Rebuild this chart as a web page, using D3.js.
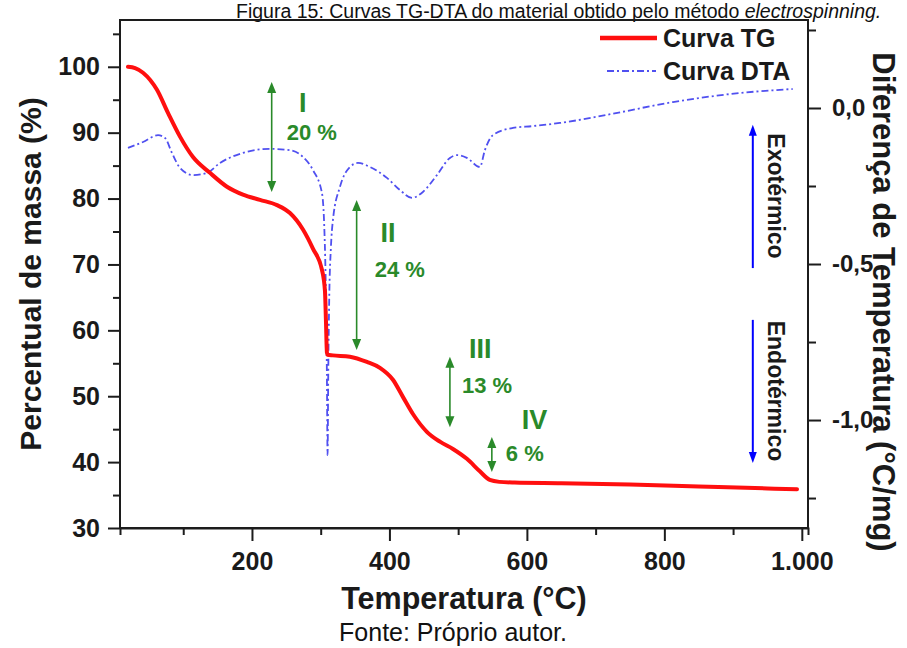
<!DOCTYPE html>
<html>
<head>
<meta charset="utf-8">
<script src="https://cdn.jsdelivr.net/npm/d3@7"></script>
<style>
  body { margin: 0; background: #fff; }
  svg { display: block; }
  text { font-family: "Liberation Sans", Arial, Helvetica, sans-serif; }
</style>
</head>
<body>
<svg id="chart" width="907" height="648"></svg>
<script>
// TG curve: temperature (°C) and remaining mass (%)
const tgTemp = [19.6, 30, 41.5, 61.8, 77.8, 95.3, 114.2, 138.9, 163.6, 186.9, 211.6, 236.4, 255.3, 274.2, 288.7,
  301.8, 306.2, 307.6, 309.1, 310, 317.8, 342.5, 367.3, 386.2, 405.1, 419.6, 434.2, 454.5, 473.5, 492.4,
  512.7, 531.6, 546, 560, 582, 650, 750, 850, 950, 993];
const tgMass = [100, 99.8, 99.1, 96.5, 93.0, 89.4, 86.3, 83.9, 81.8, 80.6, 79.8, 79.0, 77.8, 75.3, 72.4,
  69.2, 66.0, 61.6, 56.6, 56.3, 56.2, 56.0, 55.2, 54.3, 52.5, 49.9, 47.3, 44.6, 43.1, 42.0,
  40.5, 38.6, 37.3, 37.0, 36.9, 36.8, 36.6, 36.3, 36.0, 35.9];

// DTA curve: temperature (°C) and temperature difference (°C/mg)
const dtaTemp = [19.6, 41.5, 63.3, 73.5, 83.6, 95.3, 114.2, 134.5, 153.5, 186.9, 226.2, 255.3, 274.2, 288.7,
  301.8, 305.5, 307.6, 309.0, 310.0, 311.0, 312.5, 314.8, 317.8, 328, 342.5, 354.2, 371.6, 396.4, 415.3,
  432.7, 448.7, 469.1, 488, 498.2, 512.7, 531.6, 538.9, 550.5, 579.6, 608.7, 648, 716.4, 812.4, 909.8, 986.9];
const dtaDiff = [-0.128, -0.109, -0.087, -0.096, -0.144, -0.192, -0.215, -0.208, -0.176, -0.144, -0.131, -0.135, -0.157, -0.199,
  -0.272, -0.40, -0.60, -0.85, -1.112, -0.85, -0.60, -0.45, -0.359, -0.253, -0.189, -0.176, -0.189, -0.224, -0.263,
  -0.288, -0.269, -0.215, -0.160, -0.151, -0.160, -0.189, -0.135, -0.087, -0.064, -0.058, -0.048, -0.022, 0.019, 0.048, 0.061];

// Axis ticks
const tempTicks = [200, 400, 600, 800, 1000];
const tempTickLabels = ["200", "400", "600", "800", "1.000"];
const tempMinor = [100, 300, 500, 700, 900];
const massTicks = [30, 40, 50, 60, 70, 80, 90, 100];
const massMinor = [35, 45, 55, 65, 75, 85, 95, 105];
const diffTicks = [0, -0.5, -1.0];
const diffTickLabels = ["0,0", "-0,5", "-1,0"];
const diffMinor = [0.25, -0.25, -0.75, -1.25];

// Mass-loss stages: arrow temperature, arrow span (%), label positions
const stageNames = ["I", "II", "III", "IV"];
const stageLoss = ["20 %", "24 %", "13 %", "6 %"];
const stageArrowT = [228.7, 352.3, 488, 549];
const stageArrowTop = [97.7, 79.8, 56.0, 43.8];
const stageArrowBottom = [81.0, 57.0, 45.3, 38.5];
const stageNameT = [274, 398, 532, 611];
const stageNameM = [94.5, 74.8, 57.3, 46.4];
const stageLossT = [287, 415, 542, 597];
const stageLossM = [90.1, 69.2, 51.7, 41.4];

const svg = d3.select("#chart");
const plotLeft = 120, plotRight = 808, plotTop = 20, plotBottom = 528;
const axisColor = "#1c1c1c";
const red = "#ff0f0f", blue = "#5050f0", green = "#2a8a2a";

const x = d3.scaleLinear().domain([8, 1009]).range([plotLeft, plotRight]);
const yMass = d3.scaleLinear().domain([30, 107.1]).range([plotBottom, plotTop]);
const yDiff = d3.scaleLinear().domain([-1.346, 0.282]).range([plotBottom, plotTop]);

// Caption above the plot
const cap = svg.append("text").attr("x", 236).attr("y", 18)
  .attr("font-size", 19.5).attr("fill", "#111");
cap.append("tspan").text("Figura 15: Curvas TG-DTA do material obtido pelo método ");
cap.append("tspan").attr("font-style", "italic").text("electrospinning.");

// Frame
svg.append("rect").attr("x", plotLeft).attr("y", plotTop)
  .attr("width", plotRight - plotLeft).attr("height", plotBottom - plotTop)
  .attr("fill", "none").attr("stroke", axisColor).attr("stroke-width", 2);

function styleAxis(g, size) {
  g.select(".domain").attr("stroke", axisColor).attr("stroke-width", 2);
  g.selectAll(".tick line").attr("stroke", axisColor).attr("stroke-width", 2);
  g.selectAll("text").attr("font-family", "'Liberation Sans', Arial, sans-serif")
    .attr("font-weight", "bold").attr("font-size", size).attr("fill", "#1a1a1a");
}

// Bottom axis
const gx = svg.append("g").attr("transform", `translate(0,${plotBottom})`)
  .call(d3.axisBottom(x).tickValues(tempMinor).tickSize(7).tickFormat(""));
styleAxis(gx, 25);
const gx2 = svg.append("g").attr("transform", `translate(0,${plotBottom})`)
  .call(d3.axisBottom(x).tickValues(tempTicks).tickSize(13).tickPadding(11)
    .tickFormat((d, i) => tempTickLabels[i]));
styleAxis(gx2, 25);
gx2.selectAll(".domain").remove();

// Left axis (mass %)
const gl = svg.append("g").attr("transform", `translate(${plotLeft},0)`)
  .call(d3.axisLeft(yMass).tickValues(massMinor).tickSize(7).tickFormat(""));
styleAxis(gl, 25);
gl.select(".domain").remove();
const gl2 = svg.append("g").attr("transform", `translate(${plotLeft},0)`)
  .call(d3.axisLeft(yMass).tickValues(massTicks).tickSize(12).tickPadding(8).tickFormat(d3.format("d")));
styleAxis(gl2, 25);
gl2.select(".domain").remove();

// Right axis (DTA)
const gr = svg.append("g").attr("transform", `translate(${plotRight},0)`)
  .call(d3.axisRight(yDiff).tickValues(diffMinor).tickSize(8).tickFormat(""));
styleAxis(gr, 24);
gr.select(".domain").remove();
const gr2 = svg.append("g").attr("transform", `translate(${plotRight},0)`)
  .call(d3.axisRight(yDiff).tickValues(diffTicks).tickSize(13).tickPadding(11)
    .tickFormat((d, i) => diffTickLabels[i]));
styleAxis(gr2, 24);
gr2.select(".domain").remove();

// Axis titles
svg.append("text").attr("x", (plotLeft + plotRight) / 2).attr("y", 609)
  .attr("text-anchor", "middle").attr("font-weight", "bold").attr("font-size", 30.5)
  .attr("fill", "#1a1a1a").text("Temperatura (°C)");
svg.append("text").attr("transform", `translate(41,${(plotTop + plotBottom) / 2}) rotate(-90)`)
  .attr("text-anchor", "middle").attr("font-weight", "bold").attr("font-size", 30)
  .attr("fill", "#1a1a1a").text("Percentual de massa (%)");
svg.append("text").attr("transform", "translate(873,302) rotate(90)")
  .attr("text-anchor", "middle").attr("font-weight", "bold").attr("font-size", 31)
  .attr("fill", "#1a1a1a").text("Diferença de Temperatura (°C/mg)");

// Source note
svg.append("text").attr("x", 453).attr("y", 641).attr("text-anchor", "middle")
  .attr("font-size", 25).attr("fill", "#111").text("Fonte: Próprio autor.");

// Curves
const tgData = tgTemp.map((t, i) => [t, tgMass[i]]);
const dtaData = dtaTemp.map((t, i) => [t, dtaDiff[i]]);

svg.append("path").datum(dtaData)
  .attr("d", d3.line().x(d => x(d[0])).y(d => yDiff(d[1])).curve(d3.curveMonotoneX))
  .attr("fill", "none").attr("stroke", blue).attr("stroke-width", 1.8)
  .attr("stroke-dasharray", "7,3,2,3");

svg.append("path").datum(tgData)
  .attr("d", d3.line().x(d => x(d[0])).y(d => yMass(d[1])).curve(d3.curveMonotoneX))
  .attr("fill", "none").attr("stroke", red).attr("stroke-width", 4)
  .attr("stroke-linejoin", "round").attr("stroke-linecap", "round");

// Double-headed vertical arrow helper
function vArrow(cx, y1, y2, color, width, headLen, headHalf) {
  const up = Math.min(y1, y2), down = Math.max(y1, y2);
  svg.append("line").attr("x1", cx).attr("x2", cx)
    .attr("y1", up + headLen - 1).attr("y2", down - headLen + 1)
    .attr("stroke", color).attr("stroke-width", width);
  svg.append("path").attr("fill", color)
    .attr("d", `M${cx},${up} L${cx - headHalf},${up + headLen} L${cx + headHalf},${up + headLen} Z`);
  svg.append("path").attr("fill", color)
    .attr("d", `M${cx},${down} L${cx - headHalf},${down - headLen} L${cx + headHalf},${down - headLen} Z`);
}
function singleArrow(cx, yFrom, yTip, color, width, headLen, headHalf) {
  const dir = yTip < yFrom ? 1 : -1;
  svg.append("line").attr("x1", cx).attr("x2", cx)
    .attr("y1", yFrom).attr("y2", yTip + dir * (headLen - 1))
    .attr("stroke", color).attr("stroke-width", width);
  svg.append("path").attr("fill", color)
    .attr("d", `M${cx},${yTip} L${cx - headHalf},${yTip + dir * headLen} L${cx + headHalf},${yTip + dir * headLen} Z`);
}

// Stage annotations
stageNames.forEach((name, i) => {
  vArrow(x(stageArrowT[i]), yMass(stageArrowTop[i]), yMass(stageArrowBottom[i]), green, 1.6, 11, 4.5);
  svg.append("text").attr("x", x(stageNameT[i])).attr("y", yMass(stageNameM[i]))
    .attr("dy", "0.35em").attr("text-anchor", "middle")
    .attr("font-family", "'Liberation Serif', 'Times New Roman', serif")
    .attr("font-weight", "bold").attr("font-size", 27).attr("fill", green).text(name);
  svg.append("text").attr("x", x(stageLossT[i])).attr("y", yMass(stageLossM[i]))
    .attr("dy", "0.35em").attr("text-anchor", "middle")
    .attr("font-weight", "bold").attr("font-size", 22).attr("fill", green).text(stageLoss[i]);
});

// Exothermic / endothermic direction markers
const dirT = 928.7;
singleArrow(x(dirT), yDiff(-0.513), yDiff(-0.054), "#0000ff", 2, 11, 4);
singleArrow(x(dirT), yDiff(-0.679), yDiff(-1.138), "#0000ff", 2, 11, 4);
svg.append("text").attr("transform", `translate(${x(963) - 8},${yDiff(-0.282)}) rotate(90)`)
  .attr("text-anchor", "middle").attr("font-weight", "bold").attr("font-size", 23)
  .attr("fill", "#1a1a1a").text("Exotérmico");
svg.append("text").attr("transform", `translate(${x(963) - 8},${yDiff(-0.907)}) rotate(90)`)
  .attr("text-anchor", "middle").attr("font-weight", "bold").attr("font-size", 23)
  .attr("fill", "#1a1a1a").text("Endotérmico");

// Legend
const lg = svg.append("g");
lg.append("line").attr("x1", 600).attr("x2", 657).attr("y1", 38).attr("y2", 38)
  .attr("stroke", red).attr("stroke-width", 4.5);
lg.append("text").attr("x", 663).attr("y", 38).attr("dy", "0.36em")
  .attr("font-weight", "bold").attr("font-size", 25).attr("fill", "#1a1a1a").text("Curva TG");
lg.append("line").attr("x1", 607).attr("x2", 656).attr("y1", 71).attr("y2", 71)
  .attr("stroke", blue).attr("stroke-width", 1.8).attr("stroke-dasharray", "7,3,2,3");
lg.append("text").attr("x", 663).attr("y", 71).attr("dy", "0.36em")
  .attr("font-weight", "bold").attr("font-size", 25).attr("fill", "#1a1a1a").text("Curva DTA");
</script>
</body>
</html>
